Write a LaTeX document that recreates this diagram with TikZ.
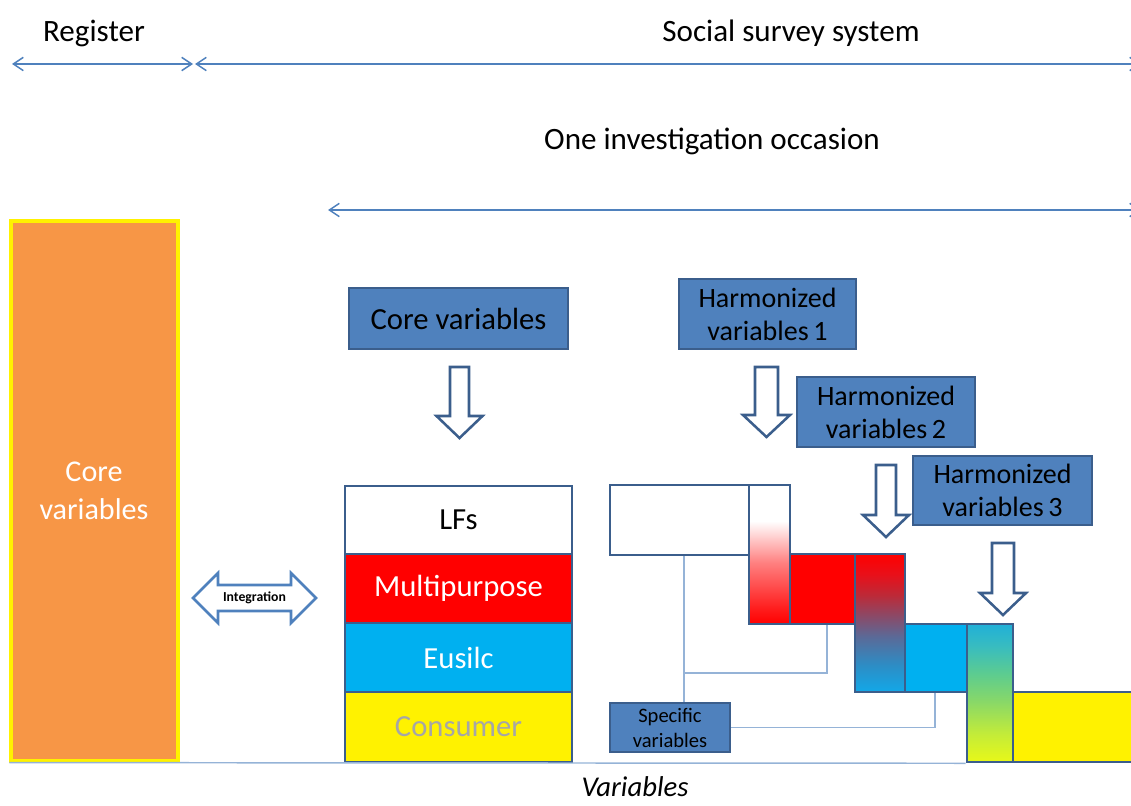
\documentclass[tikz,border=0pt]{standalone}
\usepackage{fontspec}
\setmainfont{Carlito}
\usetikzlibrary{arrows.meta,fit}

\definecolor{boxblue}{HTML}{4F81BD}
\definecolor{edgeblue}{HTML}{3B5E8C}
\definecolor{connblue}{HTML}{95B3D7}
\definecolor{orangebar}{HTML}{F79646}
\definecolor{cyanfill}{HTML}{00B0F0}
\definecolor{consgray}{HTML}{A6A6A6}
\definecolor{sA}{HTML}{12A8E8}
\definecolor{sB}{HTML}{2E8CC4}
\definecolor{sC}{HTML}{5A6A98}
\definecolor{sD}{HTML}{8A4A68}
\definecolor{sE}{HTML}{BC2A38}
\definecolor{sF}{HTML}{E8101A}
\definecolor{gA}{HTML}{E8F818}
\definecolor{gB}{HTML}{C4EC38}
\definecolor{gC}{HTML}{88D868}
\definecolor{gD}{HTML}{5CCC90}
\definecolor{gE}{HTML}{38BCC0}
\definecolor{gF}{HTML}{20B0D8}

% vertical blends for the overlap columns (25bp..75bp covers the path)
\pgfdeclareverticalshading{whitetored}{100bp}{color(0bp)=(red); color(25bp)=(red); color(30bp)=(red!90!white); color(47bp)=(red!50!white); color(62bp)=(white); color(75bp)=(white); color(100bp)=(white)}
\pgfdeclareverticalshading{redtocyan}{100bp}{color(0bp)=(sA); color(25bp)=(sA); color(35bp)=(sB); color(45bp)=(sC); color(52.5bp)=(sD); color(60bp)=(sE); color(67.5bp)=(sF); color(75bp)=(red); color(100bp)=(red)}
\pgfdeclareverticalshading{cyantoyellow}{100bp}{color(0bp)=(gA); color(25bp)=(gA); color(35bp)=(gB); color(47bp)=(gC); color(57bp)=(gD); color(67bp)=(gE); color(75bp)=(gF); color(100bp)=(gF)}

\newcommand\downblock[6]{% centre x, top, head start, tip, half shaft, half head
  \draw[blockarrow] (#1-#5,#2) -- (#1+#5,#2) -- (#1+#5,#3) -- (#1+#6,#3)
    -- (#1,#4) -- (#1-#6,#3) -- (#1-#5,#3) -- cycle;}

\tikzset{
  headtxt/.style={font=\fontsize{23.3}{27}\selectfont},
  label box/.style={draw=edgeblue, line width=1.8pt, fill=boxblue, inner sep=0pt},
  boxtxt/.style={align=center, inner sep=0pt, font=\fontsize{21}{24.75}\selectfont},
  stackrow/.style={draw=edgeblue, line width=1.9pt, inner sep=0pt},
  rowtxt/.style={inner sep=0pt, font=\fontsize{23}{27}\selectfont},
  blockarrow/.style={draw=edgeblue, line width=1.9pt, fill=white, line join=miter},
  span arrow/.style={draw=boxblue, line width=1.1pt,
    {Straight Barb[length=7.5pt,width=10pt]}-{Straight Barb[length=7.5pt,width=10pt]}},
  conn/.style={draw=connblue, line width=1.1pt},
}

\begin{document}
\begin{tikzpicture}[x=0.75pt,y=-0.75pt]
\clip (0,0) rectangle (1131,806);

% headings and span arrows
\node[headtxt] (register) at (94,33) {Register};
\node[headtxt] (survey) at (791,33) {Social survey system};
\node[headtxt] (occasion) at (712,141) {One investigation occasion};
\coordinate (regL) at (12,64);
\coordinate (regR) at (193,64);
\coordinate (svyL) at (195,64);
\coordinate (svyR) at (1141,64);
\coordinate (occL) at (328,210);
\coordinate (occR) at (1141,210);
\draw[span arrow] (regL) -- (regR);
\draw[span arrow] (svyL) -- (svyR);
\draw[span arrow] (occL) -- (occR);

% register bar
\node[fit={(11,221)(178,761)}, inner sep=0pt, draw=yellow, line width=2.4pt,
  fill=orangebar] (bar) {};
\node[align=center, text=white, inner sep=0pt, font=\fontsize{22.6}{28.5}\selectfont]
  (bar-t) at (94,491) {Core\\variables};

% integration arrow
\draw[draw=boxblue, line width=2pt, fill=white, line join=miter]
  (193,598) -- (218,573) -- (218,585) -- (291,585) -- (291,573) -- (316,598)
  -- (291,623) -- (291,611) -- (218,611) -- (218,623) -- cycle;
\node[font=\bfseries\fontsize{10.3}{12}\selectfont] (integ) at (254.5,598) {Integration};

% core variable box and stack of surveys
\node[label box, fit={(349,288)(568,349)}] (corebox) {};
\node[rowtxt] (corebox-t) at (corebox.center) {Core variables};
\downblock{459.5}{367}{416}{438}{9.5}{23}
\node[stackrow, fill=white, fit={(345,486)(572,554)}] (lfs) {};
\node[stackrow, fill=red, fit={(345,554)(572,623)}] (multi) {};
\node[stackrow, fill=cyanfill, fit={(345,623)(572,692)}] (eusilc) {};
\node[stackrow, fill=yellow, fit={(345,692)(572,762)}] (consumer) {};
\node[rowtxt] (lfs-t) at (lfs.center) {LFs};
\node[rowtxt, text=white] (multi-t) at (multi.center) {Multipurpose};
\node[rowtxt, text=white] (eusilc-t) at (eusilc.center) {Eusilc};
\node[rowtxt, text=consgray] (consumer-t) at (consumer.center) {Consumer};

% harmonized variable boxes
\node[label box, fit={(679,279)(856,349)}] (harm1) {};
\node[label box, fit={(797,377)(975,447)}] (harm2) {};
\node[label box, fit={(913,456)(1092,525)}] (harm3) {};
\node[boxtxt] (harm1-t) at (harm1.center) {Harmonized\\variables\,1};
\node[boxtxt] (harm2-t) at (harm2.center) {Harmonized\\variables\,2};
\node[boxtxt] (harm3-t) at (harm3.center) {Harmonized\\variables\,3};
\downblock{766.5}{367}{415}{437}{11.5}{23.5}
\downblock{886}{465}{515}{537}{10}{23}
\downblock{1003}{543}{593}{615}{11}{23}

% staircase of overlapping surveys
\node[stackrow, fill=white, fit={(610,485)(749,555)}] (wbox) {};
\node[stackrow, fill=red, fit={(790,554)(855,624)}] (redblk) {};
\node[stackrow, fill=cyanfill, fit={(905,624)(967,692)}] (blueblk) {};
\node[stackrow, fill=yellow, fit={(1013,692)(1150,762)}] (yelblk) {};
\node[stackrow, shading=whitetored, fit={(749,485)(790,624)}] (col1) {};
\node[stackrow, shading=redtocyan, fit={(855,554)(905,692)}] (col2) {};
\node[stackrow, shading=cyantoyellow, fit={(967,624)(1013,762)}] (col3) {};

% specific variables and their links
\node[label box, line width=1.6pt, fit={(610,703)(730,752)}] (spec) {};
\node[boxtxt, font=\fontsize{15.4}{18.75}\selectfont] (spec-t) at (spec.center) {Specific\\variables};
\coordinate (join) at (684,673);
\draw[conn] (684,0 |- wbox.south) -- (684,0 |- spec.north);
\draw[conn] (827,0 |- redblk.south) |- (join);
\draw[conn] (spec.east) -| (935,0 |- blueblk.south);
\draw[conn] (bar.south west) -- (col3.south west);

% axis caption
\node[inner sep=0pt, font=\itshape\fontsize{21.5}{25}\selectfont] (axis) at (635,787) {Variables};
\end{tikzpicture}
\end{document}
